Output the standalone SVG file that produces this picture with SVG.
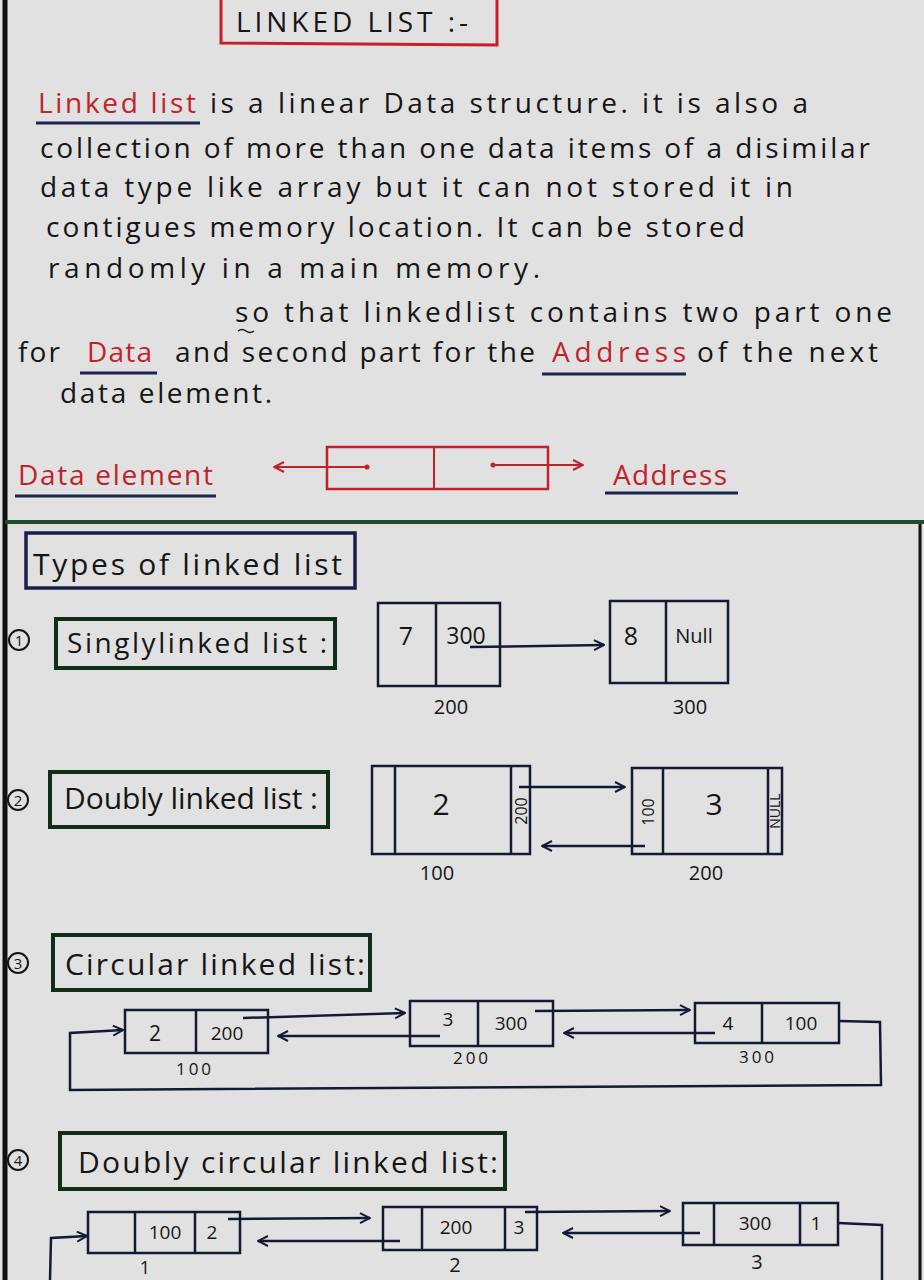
<svg xmlns="http://www.w3.org/2000/svg" width="924" height="1280" viewBox="0 0 924 1280">
<defs>
<marker id="ah" viewBox="0 0 12 12" refX="11" refY="6" markerWidth="12" markerHeight="12" markerUnits="userSpaceOnUse" orient="auto">
<path d="M1,1 L11,6 L1,11" fill="none" stroke="#141a33" stroke-width="2"/>
</marker>
<marker id="ahr" viewBox="0 0 12 12" refX="11" refY="6" markerWidth="12" markerHeight="12" markerUnits="userSpaceOnUse" orient="auto">
<path d="M1,1 L11,6 L1,11" fill="none" stroke="#c0222c" stroke-width="2"/>
</marker>
</defs>
<style>
.t{font-family:"Open Sans","Liberation Sans",sans-serif;font-size:28px;fill:#151515}
.h{font-size:30px}
.r{fill:#c0222c}
.n{font-family:"Open Sans","Liberation Sans",sans-serif;font-size:20px;fill:#151515}
.big{font-size:30px}
.ul{stroke:#1b2550;stroke-width:3;fill:none}
.box{fill:none;stroke:#141a33;stroke-width:2.5}
.gbox{fill:none;stroke:#0f2d17;stroke-width:4}
.cn{fill:none;stroke:#141a33;stroke-width:2.5}
.cnr{fill:none;stroke:#c0222c;stroke-width:2}
.num{fill:none;stroke:#151515;stroke-width:2}
.nt{font-family:"Open Sans","Liberation Sans",sans-serif;font-size:15px;fill:#151515;text-anchor:middle}
</style>
<rect x="0" y="0" width="924" height="1280" fill="#e1e1e1"/>
<line x1="5" y1="0" x2="5" y2="1280" stroke="#111" stroke-width="5"/>
<line x1="920" y1="520" x2="920" y2="1280" stroke="#111" stroke-width="3"/>
<line x1="5" y1="522" x2="924" y2="522" stroke="#1f4d2a" stroke-width="4"/>

<g id="title">
<path d="M221,-2 L221,43 L497,45 L497,-2" fill="none" stroke="#c8202a" stroke-width="3"/>
<text class="t" x="236" y="32" style="font-size:28px" textLength="232" lengthAdjust="spacing">LINKED LIST :-</text>
</g>

<g id="paragraph">
<text class="t r" x="38" y="113" textLength="158" lengthAdjust="spacing">Linked list</text>
<line class="ul" x1="36" y1="123" x2="200" y2="123"/>
<text class="t" x="210" y="113" textLength="598" lengthAdjust="spacing">is a linear Data structure. it is also a</text>
<text class="t" x="40" y="158" textLength="830" lengthAdjust="spacing">collection of more than one data items of a disimilar</text>
<text class="t" x="40" y="197" textLength="753" lengthAdjust="spacing">data type like array but it can not stored it in</text>
<text class="t" x="46" y="237" textLength="699" lengthAdjust="spacing">contigues memory location. It can be stored</text>
<text class="t" x="48" y="278" textLength="492" lengthAdjust="spacing">randomly in a main memory.</text>
<text class="t" x="235" y="322" textLength="657" lengthAdjust="spacing">so that linkedlist contains two part one</text>
<path d="M238,331 q4,-3 8,0 q4,3 8,0" fill="none" stroke="#151515" stroke-width="1.5"/>
<text class="t" x="18" y="362" textLength="42" lengthAdjust="spacing">for</text>
<text class="t r" x="87" y="362" textLength="65" lengthAdjust="spacing">Data</text>
<line class="ul" x1="80" y1="373" x2="157" y2="373"/>
<text class="t" x="175" y="362" textLength="360" lengthAdjust="spacing">and second part for the</text>
<text class="t r" x="552" y="362" textLength="134" lengthAdjust="spacing">Address</text>
<line class="ul" x1="542" y1="374" x2="686" y2="374"/>
<text class="t" x="697" y="362" textLength="181" lengthAdjust="spacing">of the next</text>
<text class="t" x="60" y="403" textLength="212" lengthAdjust="spacing">data element.</text>
</g>

<g id="data-element-label">
<text class="t r" x="18" y="485" textLength="195" lengthAdjust="spacing">Data element</text>
<line class="ul" x1="15" y1="496" x2="216" y2="496"/>
</g>
<g id="node-structure">
<rect x="327" y="447" width="221" height="42" fill="none" stroke="#c0222c" stroke-width="2.5"/>
<line x1="434" y1="447" x2="434" y2="489" stroke="#c0222c" stroke-width="2"/>
<circle cx="367" cy="467" r="2.5" fill="#c0222c"/>
<circle cx="493" cy="465" r="2.5" fill="#c0222c"/>
</g>
<g id="address-label">
<text class="t r" x="613" y="485" textLength="114" lengthAdjust="spacing">Address</text>
<line class="ul" x1="605" y1="493" x2="738" y2="493"/>
</g>

<g id="types-heading">
<rect x="26" y="533" width="329" height="55" fill="none" stroke="#1a1f4a" stroke-width="3.5"/>
<text class="t h" x="33" y="575" textLength="309" lengthAdjust="spacing">Types of linked list</text>
</g>

<g id="singly-heading">
<circle class="num" cx="19" cy="640" r="10"/>
<text class="nt" x="19" y="646">1</text>
<rect class="gbox" x="56" y="619" width="279" height="49"/>
<text class="t" x="67" y="653" textLength="260" lengthAdjust="spacing">Singlylinked list :</text>
</g>
<g id="singly-node-200">
<rect class="box" x="378" y="603" width="122" height="83"/>
<line class="box" x1="436" y1="603" x2="436" y2="686"/>
<text class="n" x="406" y="645" text-anchor="middle" style="font-size:25px">7</text>
<text class="n" x="466" y="644" text-anchor="middle" style="font-size:23px">300</text>
<text class="n" x="451" y="714" text-anchor="middle">200</text>
</g>
<g id="singly-node-300">
<rect class="box" x="610" y="601" width="118" height="82"/>
<line class="box" x1="666" y1="601" x2="666" y2="683"/>
<text class="n" x="631" y="645" text-anchor="middle" style="font-size:25px">8</text>
<text class="n" x="694" y="643" text-anchor="middle" style="font-size:20px">Null</text>
<text class="n" x="690" y="714" text-anchor="middle">300</text>
</g>

<g id="doubly-heading">
<circle class="num" cx="18" cy="800" r="10"/>
<text class="nt" x="18" y="806">2</text>
<rect class="gbox" x="50" y="772" width="278" height="55"/>
<text class="t h" x="64" y="809" textLength="254" lengthAdjust="spacing">Doubly linked list :</text>
</g>
<g id="doubly-node-100">
<rect class="box" x="372" y="766" width="158" height="88"/>
<line class="box" x1="395" y1="766" x2="395" y2="854"/>
<line class="box" x1="511" y1="766" x2="511" y2="854"/>
<text class="n big" x="441" y="815" text-anchor="middle">2</text>
<text class="n" transform="translate(527,811) rotate(-90)" text-anchor="middle" style="font-size:16px">200</text>
<text class="n" x="437" y="880" text-anchor="middle">100</text>
</g>
<g id="doubly-node-200">
<rect class="box" x="632" y="768" width="150" height="86"/>
<line class="box" x1="663" y1="768" x2="663" y2="854"/>
<line class="box" x1="768" y1="768" x2="768" y2="854"/>
<text class="n" transform="translate(654,812) rotate(-90)" text-anchor="middle" style="font-size:16px">100</text>
<text class="n big" x="714" y="815" text-anchor="middle">3</text>
<text class="n" transform="translate(780,811) rotate(-90)" text-anchor="middle" style="font-size:14px">NULL</text>
<text class="n" x="706" y="880" text-anchor="middle">200</text>
</g>

<g id="circular-heading">
<circle class="num" cx="18" cy="963" r="10"/>
<text class="nt" x="18" y="969">3</text>
<rect class="gbox" x="53" y="935" width="317" height="55"/>
<text class="t h" x="65" y="975" textLength="300" lengthAdjust="spacing">Circular linked list:</text>
</g>
<g id="circular-node-100">
<rect class="box" x="125" y="1010" width="143" height="43"/>
<line class="box" x1="196" y1="1010" x2="196" y2="1053"/>
<text class="n" x="155" y="1041" text-anchor="middle" style="font-size:21px">2</text>
<text class="n" x="227" y="1040" text-anchor="middle" style="font-size:19px">200</text>
<text class="n" x="195" y="1075" text-anchor="middle" style="font-size:17px" letter-spacing="3">100</text>
</g>
<g id="circular-node-200">
<rect class="box" x="410" y="1001" width="143" height="45"/>
<line class="box" x1="478" y1="1001" x2="478" y2="1046"/>
<text class="n" x="448" y="1026" text-anchor="middle" style="font-size:19px">3</text>
<text class="n" x="511" y="1030" text-anchor="middle" style="font-size:19px">300</text>
<text class="n" x="472" y="1064" text-anchor="middle" style="font-size:17px" letter-spacing="3">200</text>
</g>
<g id="circular-node-300">
<rect class="box" x="695" y="1003" width="144" height="40"/>
<line class="box" x1="762" y1="1003" x2="762" y2="1043"/>
<text class="n" x="728" y="1030" text-anchor="middle" style="font-size:19px">4</text>
<text class="n" x="801" y="1030" text-anchor="middle" style="font-size:19px">100</text>
<text class="n" x="758" y="1063" text-anchor="middle" style="font-size:17px" letter-spacing="3">300</text>
</g>

<g id="doubly-circular-heading">
<circle class="num" cx="18" cy="1160" r="10"/>
<text class="nt" x="18" y="1166">4</text>
<rect class="gbox" x="60" y="1133" width="445" height="56"/>
<text class="t h" x="78" y="1173" textLength="420" lengthAdjust="spacing">Doubly circular linked list:</text>
</g>
<g id="dcll-node-1">
<rect class="box" x="88" y="1212" width="152" height="41"/>
<line class="box" x1="135" y1="1212" x2="135" y2="1253"/>
<line class="box" x1="195" y1="1212" x2="195" y2="1253"/>
<text class="n" x="165" y="1239" text-anchor="middle" style="font-size:19px">100</text>
<text class="n" x="212" y="1239" text-anchor="middle" style="font-size:19px">2</text>
<text class="n" x="145" y="1274" text-anchor="middle" style="font-size:18px">1</text>
</g>
<g id="dcll-node-2">
<rect class="box" x="383" y="1207" width="154" height="43"/>
<line class="box" x1="422" y1="1207" x2="422" y2="1250"/>
<line class="box" x1="505" y1="1207" x2="505" y2="1250"/>
<text class="n" x="456" y="1234" text-anchor="middle" style="font-size:19px">200</text>
<text class="n" x="519" y="1234" text-anchor="middle" style="font-size:19px">3</text>
<text class="n" x="455" y="1272" text-anchor="middle">2</text>
</g>
<g id="dcll-node-3">
<rect class="box" x="683" y="1203" width="155" height="42"/>
<line class="box" x1="714" y1="1203" x2="714" y2="1245"/>
<line class="box" x1="800" y1="1203" x2="800" y2="1245"/>
<text class="n" x="755" y="1230" text-anchor="middle" style="font-size:19px">300</text>
<text class="n" x="816" y="1230" text-anchor="middle" style="font-size:19px">1</text>
<text class="n" x="757" y="1269" text-anchor="middle">3</text>
</g>

<g id="connectors">
<line class="cnr" x1="367" y1="467" x2="274" y2="467" marker-end="url(#ahr)"/>
<line class="cnr" x1="493" y1="465" x2="583" y2="465" marker-end="url(#ahr)"/>
<line class="cn" x1="470" y1="647" x2="604" y2="645" marker-end="url(#ah)"/>
<line class="cn" x1="519" y1="787" x2="625" y2="787" marker-end="url(#ah)"/>
<line class="cn" x1="645" y1="846" x2="542" y2="846" marker-end="url(#ah)"/>
<line class="cn" x1="243" y1="1018" x2="405" y2="1013" marker-end="url(#ah)"/>
<line class="cn" x1="440" y1="1036" x2="278" y2="1036" marker-end="url(#ah)"/>
<line class="cn" x1="535" y1="1011" x2="690" y2="1010" marker-end="url(#ah)"/>
<line class="cn" x1="715" y1="1033" x2="564" y2="1033" marker-end="url(#ah)"/>
<polyline class="cn" points="839,1021 880,1022 881,1085 70,1090 70,1033 123,1030" marker-end="url(#ah)"/>
<line class="cn" x1="228" y1="1219" x2="370" y2="1218" marker-end="url(#ah)"/>
<line class="cn" x1="400" y1="1241" x2="258" y2="1241" marker-end="url(#ah)"/>
<line class="cn" x1="525" y1="1212" x2="670" y2="1211" marker-end="url(#ah)"/>
<line class="cn" x1="700" y1="1233" x2="563" y2="1233" marker-end="url(#ah)"/>
<polyline class="cn" points="838,1223 882,1225 882,1280"/>
<polyline class="cn" points="50,1280 51,1238 87,1236" marker-end="url(#ah)"/>
</g>
</svg>
